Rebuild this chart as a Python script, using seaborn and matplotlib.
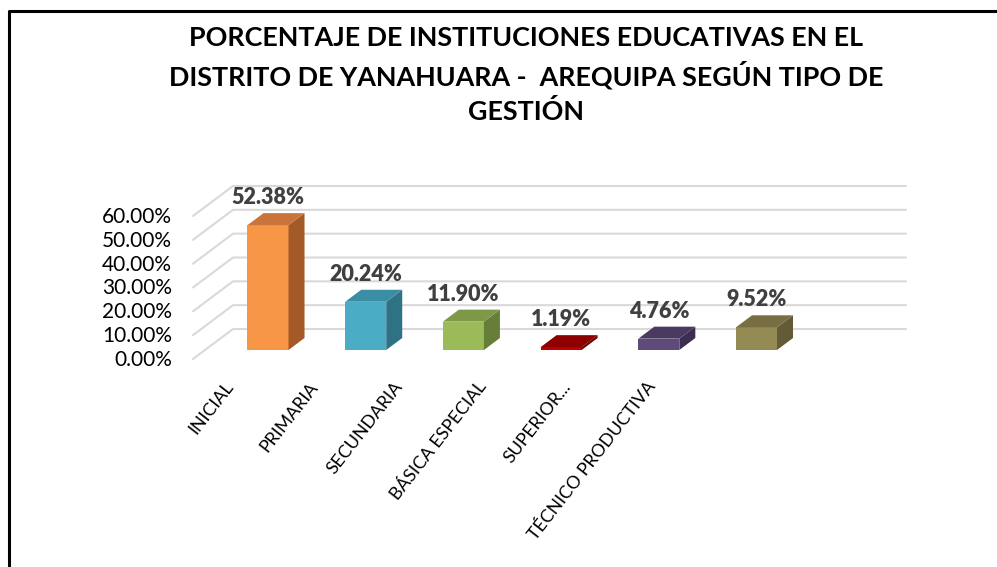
import numpy as np
import matplotlib
matplotlib.use("Agg")
import matplotlib.pyplot as plt
from matplotlib.patches import Polygon
from matplotlib.lines import Line2D
from matplotlib.transforms import IdentityTransform, ScaledTranslation
import seaborn as sns

# ---- data ----
categories = ["INICIAL", "PRIMARIA", "SECUNDARIA", "BÁSICA ESPECIAL", "SUPERIOR...", "TÉCNICO PRODUCTIVA"]
values = [52.38, 20.24, 11.90, 1.19, 4.76, 9.52]
value_labels = ["52.38%", "20.24%", "11.90%", "1.19%", "4.76%", "9.52%"]
y_ticks = [0, 10, 20, 30, 40, 50, 60]
y_tick_labels = ["0.00%", "10.00%", "20.00%", "30.00%", "40.00%", "50.00%", "60.00%"]
title = "PORCENTAJE DE INSTITUCIONES EDUCATIVAS EN EL\nDISTRITO DE YANAHUARA -  AREQUIPA SEGÚN TIPO DE\nGESTIÓN"

front_colors = ["#F79646", "#4BACC6", "#9BBB59", "#C00000", "#604A7B", "#948A54"]
top_colors = ["#C8743A", "#3B8DA3", "#7D9847", "#8C0000", "#4A3961", "#776F43"]
side_colors = ["#A35A27", "#2F7185", "#667E38", "#700000", "#3C2E50", "#625B36"]

sns.set_style("white")
plt.rcParams["font.family"] = ["Lato", "DejaVu Sans"]

W, H = 997, 567
fig = plt.figure(figsize=(W / 100, H / 100), dpi=100)

# front plane axes (depth 0)
ax_left, ax_right = 193, 866
ax_bottom_px, ax_top_px = 359, 216
ax = fig.add_axes([ax_left / W, (H - ax_bottom_px) / H,
                   (ax_right - ax_left) / W, (ax_bottom_px - ax_top_px) / H])

BAR_W = 0.42
sns.barplot(x=categories, y=values, hue=categories, palette=front_colors,
            saturation=1, width=BAR_W, legend=False, ax=ax, zorder=5)
cat_px0, cat_step = 256.0, 97.7
ax.set_xlim((ax_left - cat_px0) / cat_step, (ax_right - cat_px0) / cat_step)
ax.set_ylim(0, 60)
ax.axis("off")

DX, DY = 40.0, 30.0   # depth vector in pixels
D0, D1 = 0.3, 0.7     # bar depth range


def P(x, y, d):
    px, py = ax.transData.transform((x, y))
    return (px + DX * d, py + DY * d)


# gridlines (floor diagonal + back wall), drawn behind the bars
xl, xr = ax.get_xlim()
grid_color = "#D9D9D9"
for v, lab in zip(y_ticks, y_tick_labels):
    pts = [P(xl, v, 0), P(xl, v, 1), P(xr, v, 1)]
    fig.add_artist(Line2D([p[0] for p in pts], [p[1] for p in pts],
                          transform=IdentityTransform(), color=grid_color,
                          lw=1.5, zorder=-1))
    fx, fy = P(xl, v, 0)
    fig.text((fx - 21) / W, (fy - 1) / H, lab,
             ha="right", va="center", fontsize=15, color="black")

# shift front faces to depth D0
off = ScaledTranslation(DX * D0 / 100, DY * D0 / 100, fig.dpi_scale_trans)
for p in ax.patches:
    p.set_transform(ax.transData + off)
    p.set_clip_on(False)
    p.set_linewidth(0)

# top and side faces
for i, v in enumerate(values):
    x0, x1 = i - BAR_W / 2, i + BAR_W / 2
    top = [P(x0, v, D0), P(x1, v, D0), P(x1, v, D1), P(x0, v, D1)]
    side = [P(x1, 0, D0), P(x1, v, D0), P(x1, v, D1), P(x1, 0, D1)]
    fig.add_artist(Polygon(side, closed=True, transform=IdentityTransform(),
                           facecolor=side_colors[i], edgecolor="none", zorder=6))
    fig.add_artist(Polygon(top, closed=True, transform=IdentityTransform(),
                           facecolor=top_colors[i], edgecolor="none", zorder=6))
    lx, _ = P(i, v, D0)
    _, ly = P(i, v, D1)
    fig.text(lx / W, (ly + 5) / H, value_labels[i], ha="center", va="bottom",
             fontsize=15.5, fontweight="heavy", color="#404040", zorder=7)

# category labels
lbl0, lblstep = -0.33, 0.865
lbl_y = H - 379
for i, c in enumerate(categories):
    lx, _ = ax.transData.transform((lbl0 + lblstep * i, 0))
    fig.text(lx / W, lbl_y / H, c, rotation=52, rotation_mode="anchor",
             ha="right", va="top", fontsize=12.8, color="black")

# title
fig.text(526 / W, (H - 75) / H, title, ha="center", va="center",
         fontsize=19.4, fontweight="bold", color="black", linespacing=1.47)

# outer border
fig.add_artist(Line2D([8.5, 8.5, W], [0, H - 11, H - 11],
                      transform=IdentityTransform(), color="black", lw=2.2))

fig.savefig("out.png", dpi=100)
